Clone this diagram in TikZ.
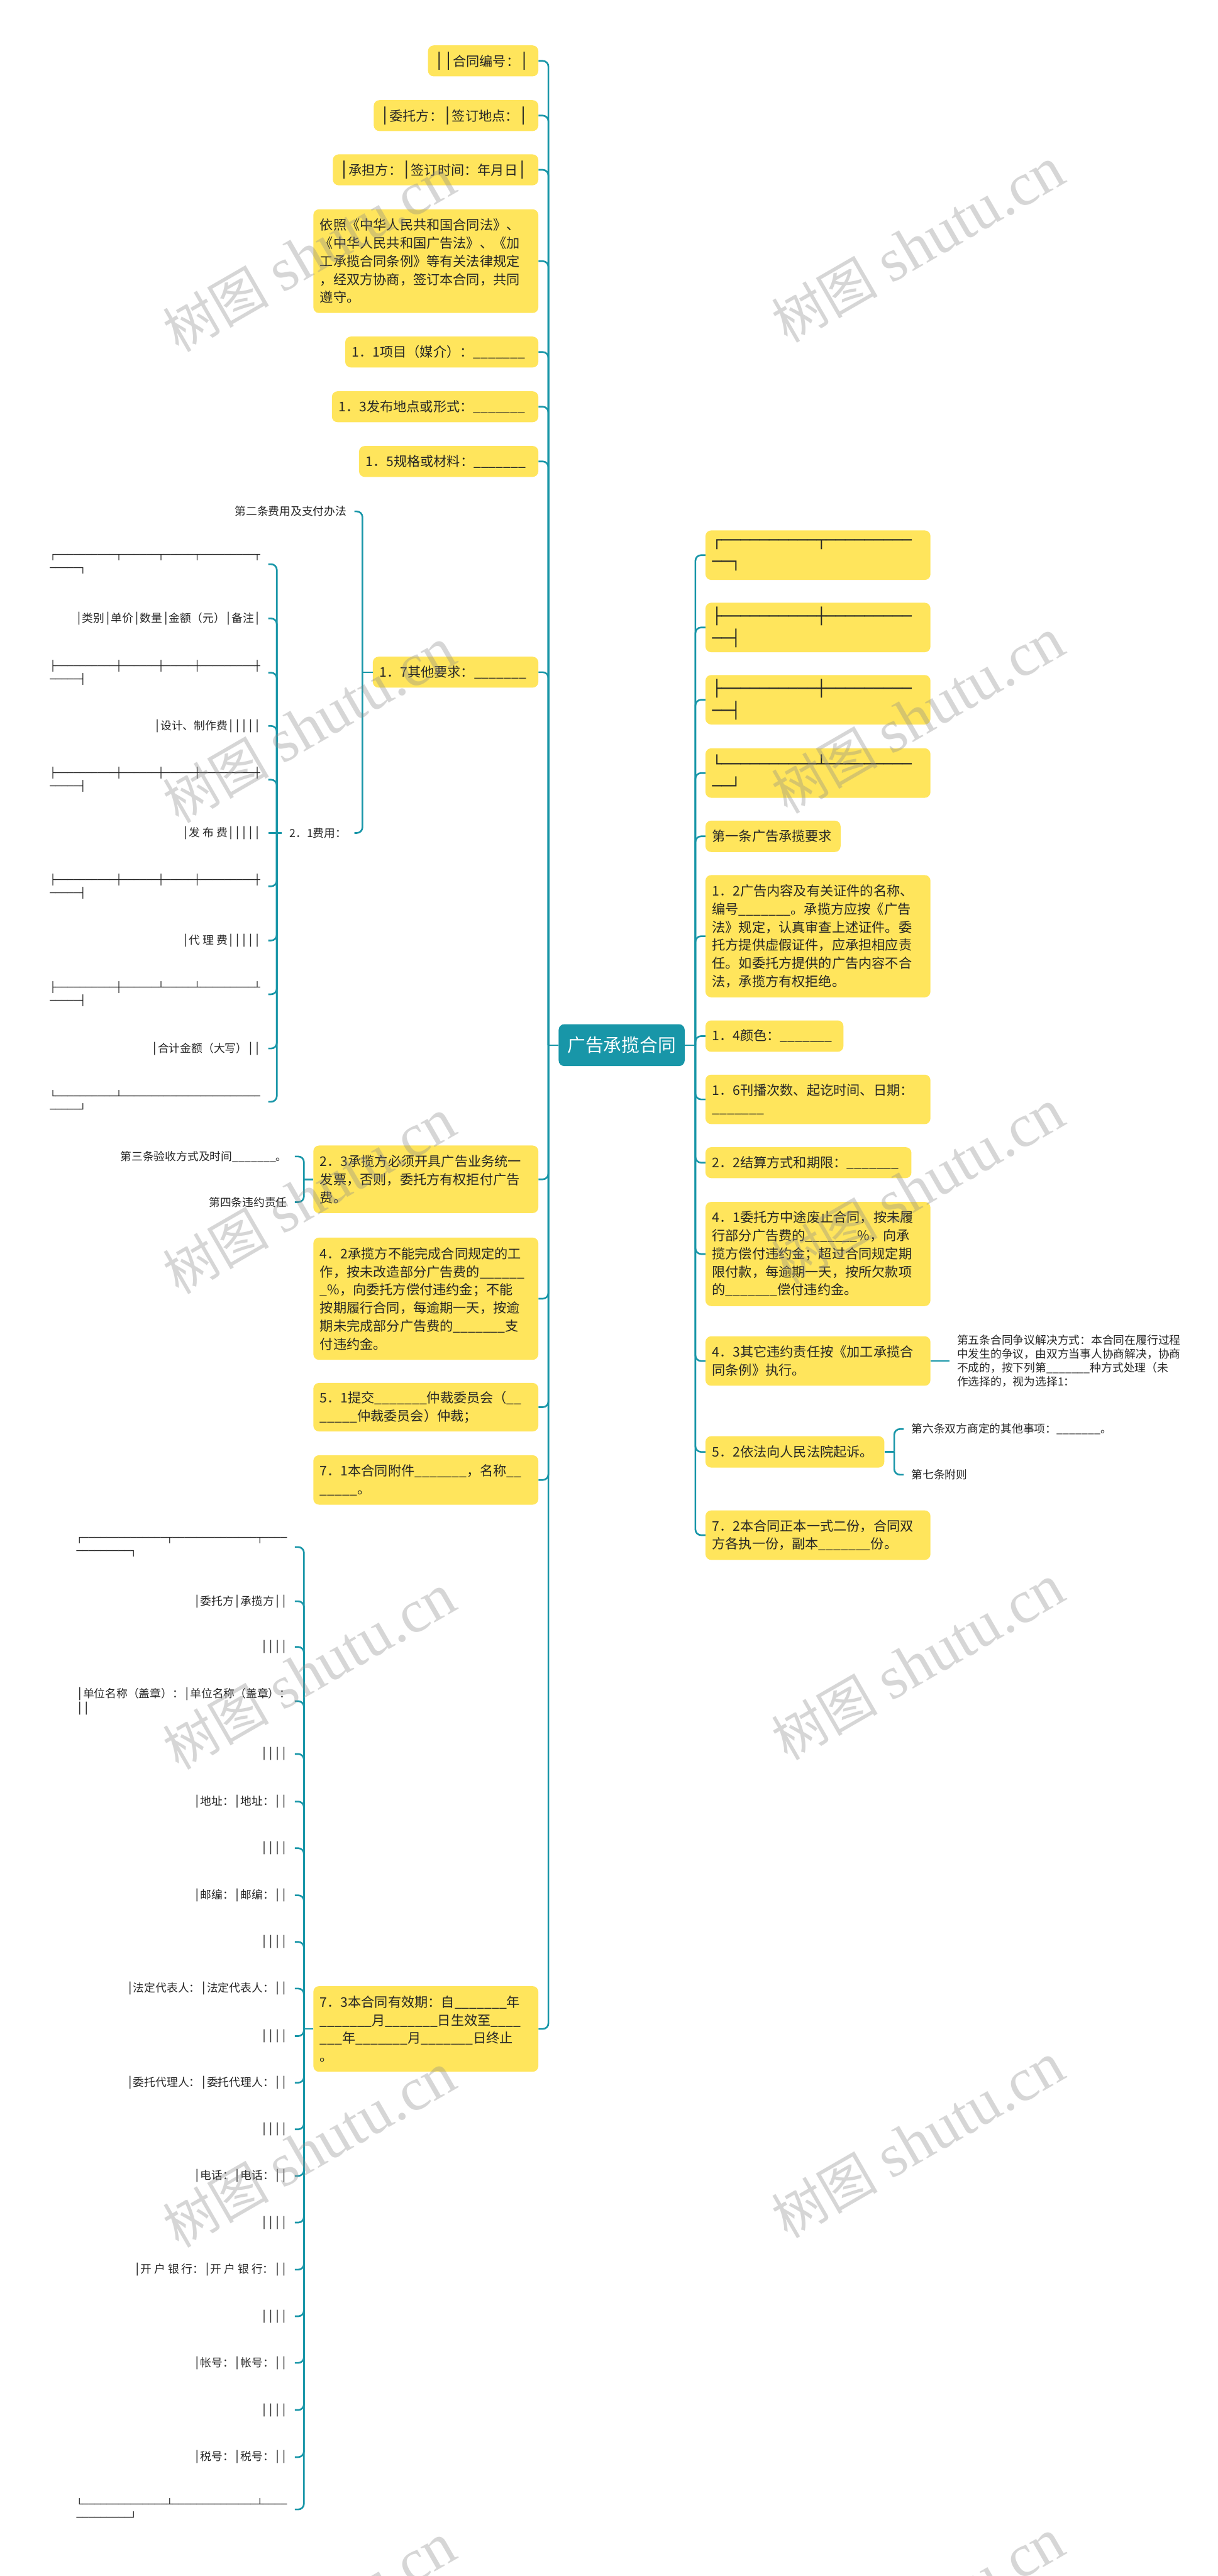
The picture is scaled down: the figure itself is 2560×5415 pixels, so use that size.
\documentclass[tikz,border=0pt]{standalone}
\usepackage{fontspec}
\setmainfont{Noto Sans CJK SC}
\newfontfamily\boxff{DejaVu Sans Mono}
\newfontfamily\wmlat{Liberation Serif}
\newfontfamily\wmcjk{Noto Sans CJK SC}
\definecolor{teal1}{RGB}{24,150,168}
\definecolor{yfill}{RGB}{255,229,92}
\definecolor{txt}{RGB}{38,38,38}
\definecolor{wmc}{RGB}{140,140,140}
\newcount\hcnt
\newcommand\hl[1]{\hcnt=0 \loop\ifnum\hcnt<#1 ─\advance\hcnt by 1 \repeat}
\newcommand\mainf{\fontsize{28}{38}\selectfont}
\newcommand\smallf{\fontsize{23.5}{29}\selectfont}
\newcommand\tabf{\boxff\fontsize{21}{28}\selectfont}
\newcommand\rtabf{\boxff\fontsize{33.2}{46}\selectfont}
\newcommand\vbm{{\boxff\fontsize{32}{38}\selectfont │}}
\newcommand\vbs{{\boxff\fontsize{23}{28}\selectfont │}}
\newcommand\blnk{\_\_\_\_\_\_\_}
\newcommand\wmtext{{\wmcjk\fontsize{112}{112}\selectfont 树图}\hspace{28pt}{\wmlat\fontsize{128}{128}\selectfont shutu.cn}}
\tikzset{
  conn/.style={draw=teal1, line width=3.5pt, rounded corners=12pt},
  ybox/.style={fill=yfill, rounded corners=12pt, inner xsep=14pt, inner ysep=0pt, align=left, font=\mainf, text=txt},
  plain/.style={inner xsep=16pt, inner ysep=2pt, font=\smallf, text=txt},
  tabrow/.style={plain, font=\tabf, text width=443pt, align=left},
  rootbox/.style={fill=teal1, rounded corners=12pt, text=white, font=\fontsize{38}{44}\selectfont, minimum width=265pt, minimum height=88pt, inner sep=0pt},
  wm/.style={rotate=30, text=wmc, text opacity=0.35, inner sep=0pt}
}
\begin{document}
\begin{tikzpicture}[x=1pt,y=-1pt]
\fill[white] (0,0) rectangle (2560,5415);
\useasboundingbox (0,0) rectangle (2560,5415);

% root
\node[rootbox] (root) at (1307,2197) {广告承揽合同};
\coordinate (Lj) at (1153,2197);
\coordinate (Rj) at (1462,2197);

% left main children
\node[ybox, anchor=east, text width=204pt, minimum height=65pt] (LA) at (1132,128) {\vbm{}\vbm{}合同编号：\vbm{}};
\node[ybox, anchor=east, text width=318pt, minimum height=65pt] (LB) at (1132,243) {\vbm{}委托方：\vbm{}签订地点：\vbm{}};
\node[ybox, anchor=east, text width=404pt, minimum height=65pt] (LC) at (1132,357) {\vbm{}承担方：\vbm{}签订时间：年月日\vbm{}};
\node[ybox, anchor=east, text width=445pt, minimum height=218pt] (LD) at (1132,549) {依照《中华人民共和国合同法》、\\《中华人民共和国广告法》、《加\\工承揽合同条例》等有关法律规定\\，经双方协商，签订本合同，共同\\遵守。};
\node[ybox, anchor=east, text width=378pt, minimum height=65pt] (LE) at (1132,740) {1．1项目（媒介）：\blnk{}};
\node[ybox, anchor=east, text width=406pt, minimum height=65pt] (LF) at (1132,855) {1．3发布地点或形式：\blnk{}};
\node[ybox, anchor=east, text width=349pt, minimum height=65pt] (LG) at (1132,970) {1．5规格或材料：\blnk{}};
\node[ybox, anchor=east, text width=320pt, minimum height=65pt] (LH) at (1132,1413) {1．7其他要求：\blnk{}};
\node[ybox, anchor=east, text width=445pt, minimum height=142pt] (LI) at (1132,2479) {2．3承揽方必须开具广告业务统一\\发票，否则，委托方有权拒付广告\\费。};
\node[ybox, anchor=east, text width=445pt, minimum height=257pt] (LJ) at (1132,2730) {4．2承揽方不能完成合同规定的工\\作，按未改造部分广告费的\_\_\_\_\_\_\\\_\%，向委托方偿付违约金；不能\\按期履行合同，每逾期一天，按逾\\期未完成部分广告费的\blnk{}支\\付违约金。};
\node[ybox, anchor=east, text width=445pt, minimum height=102pt] (LK) at (1132,2958) {5．1提交\blnk{}仲裁委员会（\_\_\\\_\_\_\_\_仲裁委员会）仲裁；};
\node[ybox, anchor=east, text width=445pt, minimum height=104pt] (LL) at (1132,3111) {7．1本合同附件\blnk{}，名称\_\_\\\_\_\_\_\_。};
\node[ybox, anchor=east, text width=445pt, minimum height=180pt] (LM) at (1132,4265) {7．3本合同有效期：自\blnk{}年\\\blnk{}月\blnk{}日生效至\_\_\_\_\\\_\_\_年\blnk{}月\blnk{}日终止\\。};

% right main children
\node[ybox, anchor=west, text width=445pt, minimum height=104pt, font=\rtabf] (RA) at (1483,1167) {┌\hl{10}┬\hl{9}\\\hl{2}┐};
\node[ybox, anchor=west, text width=445pt, minimum height=104pt, font=\rtabf] (RB) at (1483,1319) {├\hl{10}┼\hl{9}\\\hl{2}┤};
\node[ybox, anchor=west, text width=445pt, minimum height=104pt, font=\rtabf] (RC) at (1483,1471) {├\hl{10}┼\hl{9}\\\hl{2}┤};
\node[ybox, anchor=west, text width=445pt, minimum height=104pt, font=\rtabf] (RD) at (1483,1625) {└\hl{10}┴\hl{9}\\\hl{2}┘};
\node[ybox, anchor=west, text width=256pt, minimum height=66pt] (RE) at (1483,1758) {第一条广告承揽要求};
\node[ybox, anchor=west, text width=445pt, minimum height=257pt] (RF) at (1483,1968) {1．2广告内容及有关证件的名称、\\编号\blnk{}。承揽方应按《广告\\法》规定，认真审查上述证件。委\\托方提供虚假证件，应承担相应责\\任。如委托方提供的广告内容不合\\法，承揽方有权拒绝。};
\node[ybox, anchor=west, text width=262pt, minimum height=66pt] (RG) at (1483,2178) {1．4颜色：\blnk{}};
\node[ybox, anchor=west, text width=445pt, minimum height=104pt] (RH) at (1483,2311) {1．6刊播次数、起讫时间、日期：\\\blnk{}};
\node[ybox, anchor=west, text width=405pt, minimum height=65pt] (RI) at (1483,2444) {2．2结算方式和期限：\blnk{}};
\node[ybox, anchor=west, text width=445pt, minimum height=219pt] (RJ) at (1483,2636) {4．1委托方中途废止合同，按未履\\行部分广告费的\blnk{}\%，向承\\揽方偿付违约金；超过合同规定期\\限付款，每逾期一天，按所欠款项\\的\blnk{}偿付违约金。};
\node[ybox, anchor=west, text width=445pt, minimum height=104pt] (RK) at (1483,2861) {4．3其它违约责任按《加工承揽合\\同条例》执行。};
\node[ybox, anchor=west, text width=348pt, minimum height=66pt] (RL) at (1483,3052) {5．2依法向人民法院起诉。};
\node[ybox, anchor=west, text width=445pt, minimum height=104pt] (RM) at (1483,3227) {7．2本合同正本一式二份，合同双\\方各执一份，副本\blnk{}份。};

% sub-children of 1.7
\node[plain, anchor=east] (P1) at (745,1075) {第二条费用及支付办法};
\node[plain, anchor=east] (P2) at (745,1751) {2．1费用：};
\coordinate (LHj) at (762,1413);
\coordinate (P2j) at (582,1751);

% table rows under 2.1
\node[tabrow, anchor=east] (A1) at (564,1186) {┌\hl{10}┬\hl{6}┬\hl{5}┬\hl{9}┬\\\hl{5}┐};
\node[plain, anchor=east] (A2) at (564,1300) {\vbs{}类别\vbs{}单价\vbs{}数量\vbs{}金额（元）\vbs{}备注\vbs{}};
\node[tabrow, anchor=east] (A3) at (564,1414) {├\hl{10}┼\hl{6}┼\hl{5}┼\hl{9}┼\\\hl{5}┤};
\node[plain, anchor=east] (A4) at (564,1526) {\vbs{}设计、制作费\vbs{}\vbs{}\vbs{}\vbs{}\vbs{}};
\node[tabrow, anchor=east] (A5) at (564,1639) {├\hl{10}┼\hl{6}┼\hl{5}┼\hl{9}┼\\\hl{5}┤};
\node[plain, anchor=east] (A6) at (564,1751) {\vbs{}发 布 费\vbs{}\vbs{}\vbs{}\vbs{}\vbs{}};
\node[tabrow, anchor=east] (A7) at (564,1863) {├\hl{10}┼\hl{6}┼\hl{5}┼\hl{9}┼\\\hl{5}┤};
\node[plain, anchor=east] (A8) at (564,1977) {\vbs{}代 理 费\vbs{}\vbs{}\vbs{}\vbs{}\vbs{}};
\node[tabrow, anchor=east] (A9) at (564,2090) {├\hl{10}┼\hl{6}┴\hl{5}┴\hl{9}┴\\\hl{5}┤};
\node[plain, anchor=east] (A10) at (564,2204) {\vbs{}合计金额（大写）\vbs{}\vbs{}};
\node[tabrow, anchor=east] (A11) at (564,2316) {└\hl{10}┴\hl{23}\\\hl{5}┘};

% sub-children of 2.3
\node[plain, anchor=east] (Q1) at (620,2431) {第三条验收方式及时间\blnk{}。};
\node[plain, anchor=east] (Q2) at (620,2527) {第四条违约责任};
\coordinate (LIj) at (639,2479);

% sub-children of 7.3
\coordinate (LMj) at (639,4265);
\node[tabrow, anchor=east] (B1) at (620,3252) {┌\hl{14}┬\hl{14}┬\hl{4}\\\hl{9}┐};
\node[plain, anchor=east] (B2) at (620,3366) {\vbs{}委托方\vbs{}承揽方\vbs{}\vbs{}};
\node[plain, anchor=east] (B3) at (620,3462) {\vbs{}\vbs{}\vbs{}\vbs{}};
\node[plain, anchor=east, text width=443pt, align=left, font=\fontsize{23.5}{30}\selectfont] (B4) at (620,3576) {\vbs{}单位名称（盖章）：\vbs{}单位名称（盖章）：\\\vbs{}\vbs{}};
\node[plain, anchor=east] (B5) at (620,3687) {\vbs{}\vbs{}\vbs{}\vbs{}};
\node[plain, anchor=east] (B6) at (620,3787) {\vbs{}地址：\vbs{}地址：\vbs{}\vbs{}};
\node[plain, anchor=east] (B7) at (620,3885) {\vbs{}\vbs{}\vbs{}\vbs{}};
\node[plain, anchor=east] (B8) at (620,3984) {\vbs{}邮编：\vbs{}邮编：\vbs{}\vbs{}};
\node[plain, anchor=east] (B9) at (620,4082) {\vbs{}\vbs{}\vbs{}\vbs{}};
\node[plain, anchor=east] (B10) at (620,4180) {\vbs{}法定代表人：\vbs{}法定代表人：\vbs{}\vbs{}};
\node[plain, anchor=east] (B11) at (620,4280) {\vbs{}\vbs{}\vbs{}\vbs{}};
\node[plain, anchor=east] (B12) at (620,4378) {\vbs{}委托代理人：\vbs{}委托代理人：\vbs{}\vbs{}};
\node[plain, anchor=east] (B13) at (620,4476) {\vbs{}\vbs{}\vbs{}\vbs{}};
\node[plain, anchor=east] (B14) at (620,4574) {\vbs{}电话：\vbs{}电话：\vbs{}\vbs{}};
\node[plain, anchor=east] (B15) at (620,4672) {\vbs{}\vbs{}\vbs{}\vbs{}};
\node[plain, anchor=east] (B16) at (620,4771) {\vbs{}开 户 银 行：\vbs{}开 户 银 行：\vbs{}\vbs{}};
\node[plain, anchor=east] (B17) at (620,4869) {\vbs{}\vbs{}\vbs{}\vbs{}};
\node[plain, anchor=east] (B18) at (620,4967) {\vbs{}帐号：\vbs{}帐号：\vbs{}\vbs{}};
\node[plain, anchor=east] (B19) at (620,5066) {\vbs{}\vbs{}\vbs{}\vbs{}};
\node[plain, anchor=east] (B20) at (620,5165) {\vbs{}税号：\vbs{}税号：\vbs{}\vbs{}};
\node[tabrow, anchor=east] (B21) at (620,5275) {└\hl{14}┴\hl{14}┴\hl{4}\\\hl{9}┘};

% right sub-children
\node[plain, anchor=west, text width=460pt, align=left] (S1) at (1996,2861) {第五条合同争议解决方式：本合同在履行过程\\中发生的争议，由双方当事人协商解决，协商\\不成的，按下列第\blnk{}种方式处理（未\\作选择的，视为选择1：};
\node[plain, anchor=west] (T1) at (1900,3004) {第六条双方商定的其他事项：\blnk{}。};
\node[plain, anchor=west] (T2) at (1900,3100) {第七条附则};
\coordinate (RLj) at (1880,3052);

% connectors
\draw[conn] (root.west) -- (Lj);
\draw[conn] (root.east) -- (Rj);
\foreach \n in {LA,LB,LC,LD,LE,LF,LG,LH,LI,LJ,LK,LL,LM} \draw[conn] (Lj) |- (\n.east);
\foreach \n in {RA,RB,RC,RD,RE,RF,RG,RH,RI,RJ,RK,RL,RM} \draw[conn] (Rj) |- (\n.west);
\draw[conn] (LH.west) -- (LHj);
\foreach \n in {P1,P2} \draw[conn] (LHj) |- (\n.east);
\draw[conn] (P2.west) -- (P2j);
\draw[conn] (P2j) -- (A6.east);
\foreach \n in {A1,A2,A3,A4,A5,A7,A8,A9,A10,A11} \draw[conn] (P2j) |- (\n.east);
\draw[conn] (LI.west) -- (LIj);
\foreach \n in {Q1,Q2} \draw[conn] (LIj) |- (\n.east);
\draw[conn] (LM.west) -- (LMj);
\foreach \n in {B1,B2,B3,B4,B5,B6,B7,B8,B9,B10,B11,B12,B13,B14,B15,B16,B17,B18,B19,B20,B21} \draw[conn] (LMj) |- (\n.east);
\draw[conn] (RK.east) -- (S1.west);
\draw[conn] (RL.east) -- (RLj);
\foreach \n in {T1,T2} \draw[conn] (RLj) |- (\n.west);

% watermarks
\foreach \x/\y/\k in {650/535/1, 1930/515/2, 650/1525/3, 1930/1505/4, 650/2515/5, 1930/2495/6, 650/3515/7, 1930/3495/8, 650/4520/9, 1930/4500/10, 650/5510/11, 1930/5500/12}
  \node[wm] (wm\k) at (\x,\y) {\wmtext};
\end{tikzpicture}
\end{document}
